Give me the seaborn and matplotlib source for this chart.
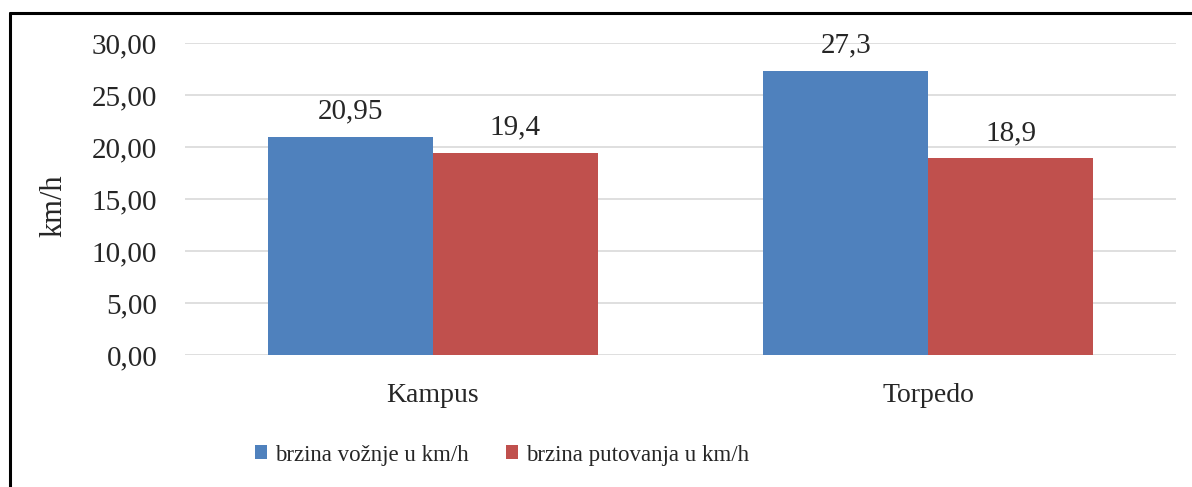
import pandas as pd
import numpy as np
import matplotlib
matplotlib.use("Agg")
import matplotlib.pyplot as plt
import seaborn as sns
from matplotlib.lines import Line2D
from matplotlib.ticker import FuncFormatter

# ----------------------------
# Data
# ----------------------------
locations = ["Kampus", "Torpedo"]
series_names = ["brzina vožnje u km/h", "brzina putovanja u km/h"]
voznja = [20.95, 27.3]
putovanje = [19.4, 18.9]
label_text = [["20,95", "27,3"], ["19,4", "18,9"]]

df = pd.DataFrame({
    "Lokacija": locations * 2,
    "Serija": [series_names[0]] * 2 + [series_names[1]] * 2,
    "Brzina": voznja + putovanje,
})

# ----------------------------
# Style
# ----------------------------
sns.set_style("white")
plt.rcParams["font.family"] = ["Liberation Serif", "DejaVu Serif"]
colors = ["#4F81BD", "#C0504D"]

fig = plt.figure(figsize=(11.92, 4.87), dpi=100)
ax = fig.add_axes([185 / 1192, 1 - 355 / 487, (1176 - 185) / 1192, (355 - 43) / 487])

sns.barplot(data=df, x="Lokacija", y="Brzina", hue="Serija", palette=colors,
            width=0.667, gap=0, saturation=1, linewidth=0, ax=ax, legend=True)

ax.set_ylim(0, 30)
ax.set_xlim(-0.5, 1.5)
ax.set_yticks(np.arange(0, 31, 5))
ax.yaxis.set_major_formatter(FuncFormatter(lambda v, p: f"{v:.2f}".replace(".", ",")))
ax.grid(axis="y", color="#D9D9D9", lw=1.2)
ax.set_axisbelow(True)
for s in ax.spines.values():
    s.set_visible(False)
ax.tick_params(axis="y", length=0, pad=20, labelsize=21)
ax.tick_params(axis="x", length=0, pad=20, labelsize=20)
ax.set_xlabel("")
ax.set_ylabel("km/h", fontsize=22)
ax.yaxis.set_label_coords(-0.118, 0.48)

# data labels
for cont, labels in zip(ax.containers, label_text):
    ax.bar_label(cont, labels=labels, padding=9, fontsize=21)

# legend
handles, _ = ax.get_legend_handles_labels()
ax.legend_.remove()
fig.legend(handles, series_names, loc="center", bbox_to_anchor=(502 / 1192, 1 - 455 / 487),
           ncol=2, frameon=False, fontsize=16.5, handlelength=0.55, handleheight=0.55,
           handletextpad=0.35, columnspacing=1.6)

# chart border (cropped frame)
fig.add_artist(Line2D([9.5 / 1192, 1], [1 - 12.5 / 487] * 2, color="black", lw=2.2))
fig.add_artist(Line2D([9.5 / 1192] * 2, [0, 1 - 12.5 / 487], color="black", lw=2.2))

plt.savefig("out.png", dpi=100)
